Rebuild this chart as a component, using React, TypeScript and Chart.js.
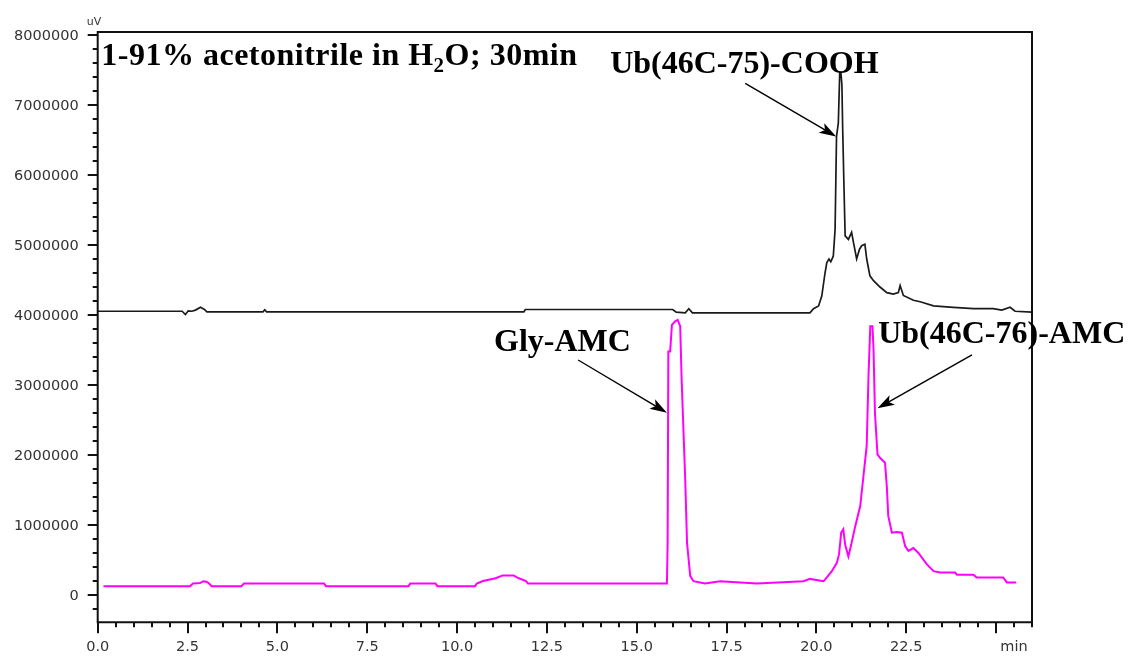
import React, { useEffect, useRef } from "react";
import { Chart, registerables } from "chart.js";

Chart.register(...registerables);

// Upper trace (black): retention time in minutes and detector signal in uV
const blackTime = [
  0, 2.35, 2.44, 2.52, 2.62, 2.72, 2.86, 2.97, 3.04, 4.6, 4.65, 4.7, 11.86, 11.9, 16.0, 16.1,
  16.35, 16.45, 16.55, 19.82, 19.92, 20.06, 20.15, 20.24, 20.29, 20.35, 20.4, 20.47, 20.52, 20.56,
  20.61, 20.65, 20.68, 20.71, 20.73, 20.76, 20.8, 20.89, 20.98, 21.03, 21.12, 21.2, 21.26, 21.35,
  21.4, 21.49, 21.59, 21.77, 21.96, 22.14, 22.28, 22.33, 22.42, 22.7, 22.89, 23.26, 23.81, 24.37,
  24.92, 25.16, 25.39, 25.53, 26.0,
];
const blackSignal = [
  4054000, 4054000, 4007000, 4060000, 4054000, 4070000, 4111000, 4080000, 4046000, 4046000,
  4075000, 4046000, 4046000, 4079000, 4079000, 4040000, 4031000, 4089000, 4031000, 4031000,
  4089000, 4130000, 4270000, 4600000, 4750000, 4800000, 4760000, 4840000, 5220000, 6550000,
  6740000, 7470000, 7470000, 7290000, 6700000, 6000000, 5130000, 5080000, 5180000, 5040000,
  4800000, 4940000, 4990000, 5010000, 4800000, 4560000, 4490000, 4400000, 4320000, 4300000,
  4320000, 4420000, 4280000, 4210000, 4190000, 4130000, 4110000, 4090000, 4090000, 4070000,
  4110000, 4054000, 4040000,
];

// Lower trace (magenta)
const pinkTime = [
  0.16, 2.57, 2.65, 2.85, 2.94, 3.03, 3.1, 3.17, 4.0, 4.07, 6.3, 6.35, 8.65, 8.7, 9.4, 9.45, 10.5,
  10.55, 10.72, 11.07, 11.27, 11.57, 11.72, 11.92, 11.97, 15.84, 15.86, 15.88, 15.93, 15.98, 16.07,
  16.14, 16.21, 16.25, 16.35, 16.4, 16.49, 16.58, 16.9, 17.32, 18.34, 19.64, 19.82, 20.2, 20.24,
  20.43, 20.57, 20.63, 20.69, 20.75, 20.8, 20.89, 20.97, 21.08, 21.22, 21.31, 21.4, 21.45, 21.5,
  21.56, 21.59, 21.63, 21.7, 21.77, 21.91, 21.96, 22.0, 22.1, 22.24, 22.38, 22.47, 22.56, 22.7,
  22.84, 23.07, 23.26, 23.44, 23.86, 23.91, 24.37, 24.46, 25.2, 25.3, 25.56,
];
const pinkSignal = [
  126000, 126000, 164000, 170000, 197000, 190000, 164000, 126000, 126000, 164000, 164000, 126000,
  126000, 164000, 164000, 126000, 126000, 164000, 200000, 239000, 280000, 280000, 239000, 200000,
  164000, 164000, 720000, 3480000, 3480000, 3860000, 3910000, 3930000, 3840000, 3080000, 1650000,
  746000, 270000, 197000, 164000, 197000, 164000, 197000, 230000, 197000, 220000, 340000, 460000,
  580000, 890000, 940000, 720000, 550000, 720000, 980000, 1270000, 1700000, 2130000, 3130000,
  3840000, 3840000, 3510000, 2600000, 2010000, 1960000, 1890000, 1550000, 1130000, 890000, 900000,
  890000, 700000, 630000, 670000, 600000, 440000, 340000, 320000, 320000, 290000, 290000, 250000,
  250000, 180000, 180000,
];

// Axis ticks
const xTickValues = [0, 2.5, 5, 7.5, 10, 12.5, 15, 17.5, 20, 22.5];
const xTickLabels = ["0.0", "2.5", "5.0", "7.5", "10.0", "12.5", "15.0", "17.5", "20.0", "22.5"];
const yTickValues = [0, 1000000, 2000000, 3000000, 4000000, 5000000, 6000000, 7000000, 8000000];
const yTickLabels = ["0", "1000000", "2000000", "3000000", "4000000", "5000000", "6000000", "7000000", "8000000"];

// Peak labels (text anchored at left/baseline) and their arrows, in data units
const peakLabels = [
  { text: "Ub(46C-75)-COOH", x: 14.26, y: 7461000 },
  { text: "Gly-AMC", x: 11.03, y: 3490000 },
  { text: "Ub(46C-76)-AMC", x: 21.72, y: 3600000 },
];
const peakArrows = [
  { fromX: 18.02, fromY: 7310000, toX: 20.55, toY: 6550000 },
  { fromX: 13.37, fromY: 3357000, toX: 15.84, toY: 2604000 },
  { fromX: 24.33, fromY: 3429000, toX: 21.7, toY: 2667000 },
];

const TICK_FONT = '14.5px "DejaVu Sans", sans-serif';
const LABEL_FONT = 'bold 32px "Liberation Serif", "Times New Roman", serif';

const framePlugin = {
  id: "chromFrame",
  afterDraw(chart: any) {
    const ctx: any = chart.ctx;
    const { left, right, top, bottom } = chart.chartArea;
    const xs = chart.scales.x;
    const ys = chart.scales.y;
    ctx.save();

    // frame
    ctx.strokeStyle = "#111";
    ctx.lineWidth = 2;
    ctx.beginPath();
    ctx.moveTo(left, top);
    ctx.lineTo(right, top);
    ctx.lineTo(right, bottom);
    ctx.lineTo(left, bottom);
    ctx.closePath();
    ctx.stroke();

    // y ticks (minor every 200000)
    ctx.beginPath();
    for (let v = -200000; v <= 8000000; v += 200000) {
      const py = Math.round(ys.getPixelForValue(v));
      const len = v % 1000000 === 0 ? 10 : 5;
      ctx.moveTo(left - len, py);
      ctx.lineTo(left, py);
    }
    // x ticks (minor every 0.5 min)
    for (let i = 0; i <= 52; i++) {
      const v = i * 0.5;
      const px = Math.round(xs.getPixelForValue(v));
      const len = i % 5 === 0 ? 11 : 5;
      ctx.moveTo(px, bottom);
      ctx.lineTo(px, bottom + len);
    }
    ctx.stroke();

    // tick labels
    ctx.fillStyle = "#333";
    ctx.font = TICK_FONT;
    ctx.textAlign = "right";
    ctx.textBaseline = "middle";
    yTickValues.forEach((v, i) => {
      ctx.fillText(yTickLabels[i], left - 19, ys.getPixelForValue(v) + 1);
    });
    ctx.textAlign = "center";
    xTickValues.forEach((v, i) => {
      ctx.fillText(xTickLabels[i], xs.getPixelForValue(v), bottom + 25);
    });
    ctx.fillText("min", xs.getPixelForValue(25.5), bottom + 25);
    ctx.font = '11px "DejaVu Sans", sans-serif';
    ctx.textAlign = "left";
    ctx.textBaseline = "alphabetic";
    ctx.fillText("uV", left - 11, top - 7);

    // condition title with subscript
    ctx.fillStyle = "#000";
    ctx.font = LABEL_FONT;
    ctx.letterSpacing = "0.5px";
    let tx = xs.getPixelForValue(0.1);
    const ty = ys.getPixelForValue(7571000);
    const part1 = "1-91% acetonitrile in H";
    ctx.fillText(part1, tx, ty);
    tx += ctx.measureText(part1).width;
    ctx.font = 'bold 21px "Liberation Serif", "Times New Roman", serif';
    ctx.fillText("2", tx, ty + 7);
    tx += ctx.measureText("2").width;
    ctx.font = LABEL_FONT;
    ctx.fillText("O; 30min", tx, ty);
    ctx.letterSpacing = "0px";

    // peak labels
    peakLabels.forEach((l) => {
      ctx.fillText(l.text, xs.getPixelForValue(l.x), ys.getPixelForValue(l.y));
    });

    // arrows
    ctx.strokeStyle = "#000";
    ctx.fillStyle = "#000";
    ctx.lineWidth = 1.4;
    peakArrows.forEach((a) => {
      const x0 = xs.getPixelForValue(a.fromX);
      const y0 = ys.getPixelForValue(a.fromY);
      const x1 = xs.getPixelForValue(a.toX);
      const y1 = ys.getPixelForValue(a.toY);
      const ang = Math.atan2(y1 - y0, x1 - x0);
      const head = 17;
      const half = 5.5;
      const bx = x1 - head * Math.cos(ang);
      const by = y1 - head * Math.sin(ang);
      ctx.beginPath();
      ctx.moveTo(x0, y0);
      ctx.lineTo(bx + 4 * Math.cos(ang), by + 4 * Math.sin(ang));
      ctx.stroke();
      ctx.beginPath();
      ctx.moveTo(x1, y1);
      ctx.lineTo(bx - half * Math.sin(ang), by + half * Math.cos(ang));
      ctx.lineTo(bx + 4 * Math.cos(ang), by + 4 * Math.sin(ang));
      ctx.lineTo(bx + half * Math.sin(ang), by - half * Math.cos(ang));
      ctx.closePath();
      ctx.fill();
    });

    ctx.restore();
  },
};

export default function App() {
  const canvasRef = useRef<HTMLCanvasElement | null>(null);

  useEffect(() => {
    if (!canvasRef.current) return;
    const chart = new Chart(canvasRef.current, {
      type: "line",
      data: {
        datasets: [
          {
            data: blackTime.map((t, i) => ({ x: t, y: blackSignal[i] })),
            borderColor: "#1a1a1a",
            borderWidth: 1.7,
            pointRadius: 0,
            tension: 0,
          },
          {
            data: pinkTime.map((t, i) => ({ x: t, y: pinkSignal[i] })),
            borderColor: "#ff00ff",
            borderWidth: 2,
            pointRadius: 0,
            tension: 0,
          },
        ],
      },
      options: {
        responsive: false,
        animation: false,
        devicePixelRatio: 1,
        events: [],
        layout: { padding: { left: 97.7, top: 32, right: 98, bottom: 33.7 } },
        plugins: { legend: { display: false }, tooltip: { enabled: false } },
        scales: {
          x: { type: "linear", min: 0, max: 26, display: false },
          y: { type: "linear", min: -390000, max: 8043000, display: false },
        },
      },
      plugins: [framePlugin],
    });
    return () => chart.destroy();
  }, []);

  return (
    <div style={{ position: "fixed", left: 0, top: 0, width: 1130, height: 656, background: "#fff" }}>
      <canvas ref={canvasRef} width={1130} height={656} />
    </div>
  );
}
